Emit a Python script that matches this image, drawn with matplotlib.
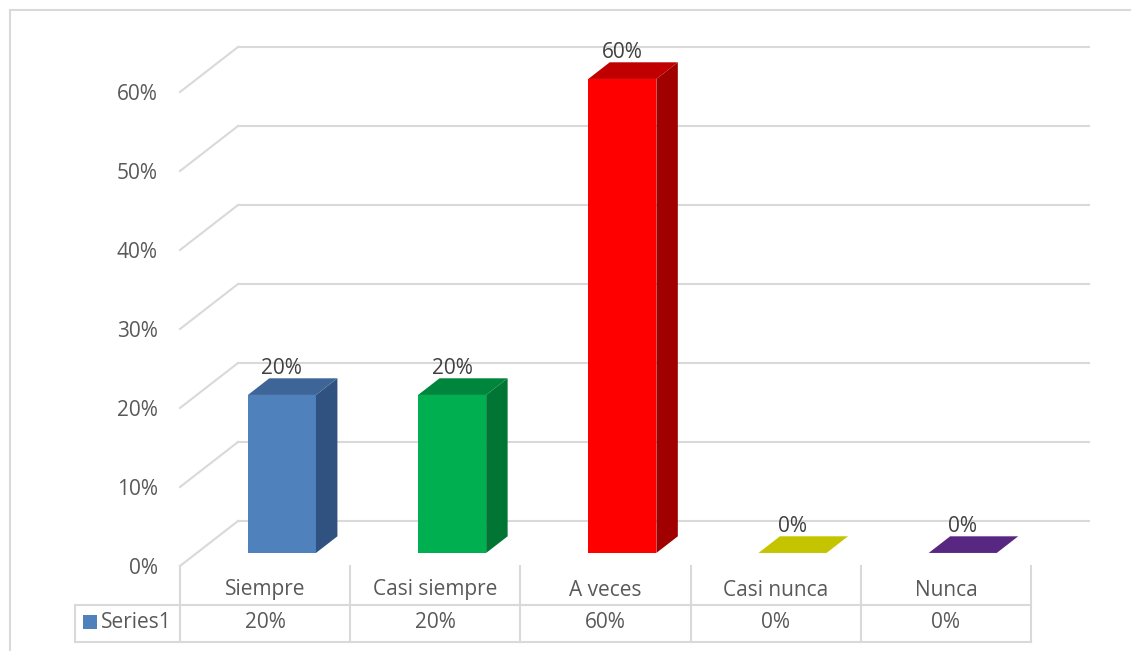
import matplotlib
matplotlib.use("Agg")
import matplotlib.pyplot as plt
from matplotlib.patches import Polygon, Rectangle
from matplotlib.lines import Line2D

# ---- data ----
categories = ["Siempre", "Casi siempre", "A veces", "Casi nunca", "Nunca"]
values = [0.20, 0.20, 0.60, 0.0, 0.0]
value_labels = ["20%", "20%", "60%", "0%", "0%"]
series_name = "Series1"
yticks = [0.0, 0.1, 0.2, 0.3, 0.4, 0.5, 0.6]
ytick_labels = ["0%", "10%", "20%", "30%", "40%", "50%", "60%"]

front_colors = ["#4F81BD", "#00B050", "#FF0000", "#C4C400", "#582781"]
side_colors = ["#2F5280", "#007534", "#A00000", "#9A9A00", "#3F1B5E"]
top_colors = ["#3D6597", "#00853C", "#C00000", "#C4C400", "#582781"]

W, H = 1131, 651
fig = plt.figure(figsize=(W / 100, H / 100), dpi=100)
fig.patch.set_facecolor("white")

# front plane of plot area (pixels)
fx0, fx1 = 180, 1031
fy0, fy_top = 566, 92
ax = fig.add_axes([fx0 / W, (H - fy0) / H, (fx1 - fx0) / W, (fy0 - fy_top) / H])
ax.set_xlim(-0.5, len(categories) - 0.5)
ax.set_ylim(0, 0.6)
ax.patch.set_alpha(0)
for s in ax.spines.values():
    s.set_visible(False)
ax.set_xticks([])

PXX = (fx1 - fx0) / len(categories)   # px per category
PXY = (fy0 - fy_top) / 0.6            # px per value unit
DX = 58 / PXX                         # wall depth (data units)
DY = 45 / PXY
GRID = "#D9D9D9"
TXT = "#595959"
FONT = "Open Sans"
FS = 15

# y tick labels
ax.set_yticks(yticks)
ax.set_yticklabels(ytick_labels, fontsize=FS, color=TXT, family=FONT)
ax.tick_params(axis="y", length=0, pad=16)

# gridlines: back wall lines + left wall diagonals
xl = -0.5
xr = len(categories) - 0.5
for t in yticks:
    ax.add_line(Line2D([xl + DX, xr + DX], [t + DY, t + DY], color=GRID, lw=1.5,
                       clip_on=False, zorder=1))
    ax.add_line(Line2D([xl, xl + DX], [t, t + DY], color=GRID, lw=1.5,
                       clip_on=False, zorder=1))

# bars
f0 = 0.29   # bar front position in depth fraction
d = 0.37    # bar depth fraction
bw = 0.4
for i, v in enumerate(values):
    x0 = i - bw / 2 + f0 * DX
    x1 = i + bw / 2 + f0 * DX
    yb = f0 * DY
    yt = v + f0 * DY
    ddx, ddy = d * DX, d * DY
    if v > 0:
        ax.add_patch(Polygon([(x0, yb), (x1, yb), (x1, yt), (x0, yt)], closed=True,
                             fc=front_colors[i], ec="none", zorder=3, clip_on=False))
        ax.add_patch(Polygon([(x1, yb), (x1 + ddx, yb + ddy), (x1 + ddx, yt + ddy), (x1, yt)],
                             closed=True, fc=side_colors[i], ec="none", zorder=3, clip_on=False))
    ax.add_patch(Polygon([(x0, yt), (x1, yt), (x1 + ddx, yt + ddy), (x0 + ddx, yt + ddy)],
                         closed=True, fc=top_colors[i], ec="none", zorder=3, clip_on=False))
    ax.text((x0 + x1) / 2, yt + ddy - 0.5 / PXY, value_labels[i], ha="center", va="bottom",
            fontsize=FS, color="#404040", family=FONT, zorder=5, clip_on=False)

# data table below the plot (positions converted from pixels)
def vy(py):
    return -(py - fy0) / PXY

row1_mid = vy(590)
row2_top = vy(604.5)
row2_mid = vy(623)
tbl_bottom = vy(641.5)
series_left = xl - (fx0 - 75) / PXX

for k in range(len(categories) + 1):
    xb = xl + k
    ax.add_line(Line2D([xb, xb], [0, tbl_bottom], color=GRID, lw=1.5, clip_on=False))
ax.add_line(Line2D([series_left, xr], [row2_top, row2_top], color=GRID, lw=1.5, clip_on=False))
ax.add_line(Line2D([series_left, xr], [tbl_bottom, tbl_bottom], color=GRID, lw=1.5, clip_on=False))
ax.add_line(Line2D([series_left, series_left], [row2_top, tbl_bottom], color=GRID, lw=1.5,
                   clip_on=False))

for i, c in enumerate(categories):
    ax.text(i, row1_mid, c, ha="center", va="center", fontsize=FS, color=TXT,
            family=FONT, clip_on=False)
    ax.text(i, row2_mid, value_labels[i], ha="center", va="center", fontsize=FS, color=TXT,
            family=FONT, clip_on=False)

# legend key in table
kx0 = xl - (fx0 - 83) / PXX
ax.add_patch(Rectangle((kx0, vy(629)), 14 / PXX, 14 / PXY, fc=front_colors[0], ec="none",
                       clip_on=False))
ax.text(xl - (fx0 - 101) / PXX, row2_mid, series_name, ha="left", va="center", fontsize=FS,
        color=TXT, family=FONT, clip_on=False)

# chart outer frame
fig.add_artist(Rectangle((10 / W, -0.01), 1.05, 1 - 10 / H + 0.01, transform=fig.transFigure,
                         fill=False, ec=GRID, lw=1.5))

fig.savefig("out.png", dpi=100, facecolor="white")
